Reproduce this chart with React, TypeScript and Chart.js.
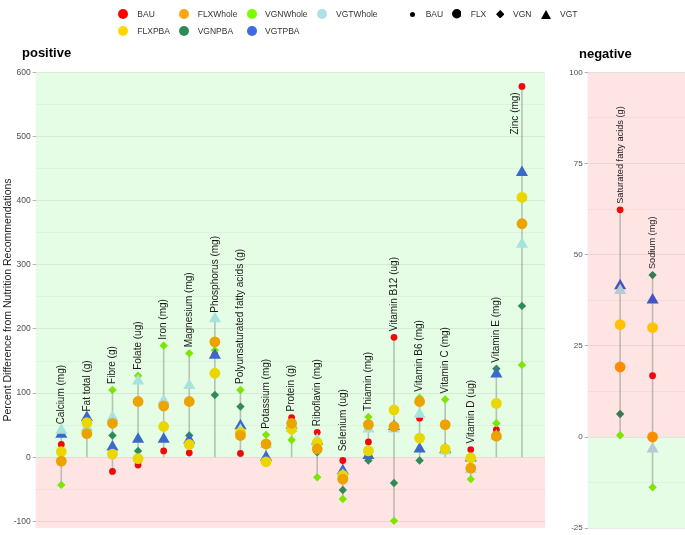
import React, { useEffect, useRef } from "react";
import { Chart, registerables } from "chart.js";
Chart.register(...registerables);

const FONT = "'Liberation Sans', Arial, Helvetica, sans-serif";
Chart.defaults.font.family = FONT;

// ---------- data: positive panel ----------
const posCategories = [
  "Calcium (mg)", "Fat total (g)", "Fibre (g)", "Folate (ug)", "Iron (mg)", "Magnesium (mg)",
  "Phosphorus (mg)", "Polyunsaturated fatty acids (g)", "Potassium (mg)", "Protein (g)",
  "Riboflavin (mg)", "Selenium (ug)", "Thiamin (mg)", "Vitamin B12 (ug)", "Vitamin B6 (mg)",
  "Vitamin C (mg)", "Vitamin D (ug)", "Vitamin E (mg)", "Zinc (mg)",
];
const posBAU = [20, 54, -22, -12, 10, 7, 160, 6, -7, 62, 39, -5, 24, 187, 61, 13, 12, 43, 578];
const posFLXWhole = [-6, 37, 53, 87, 80, 87, 180, 34, 21, 53, 13, -34, 51, 48, 87, 51, -17, 33, 364];
const posFLXPBA = [9, 54, 5, -2, 48, 20, 131, 39, -7, 44, 23, -28, 10, 74, 30, 13, -1, 84, 405];
const posVGNWhole = [-43, 37, 105, 127, 174, 162, 167, 105, 35, 27, -31, -65, 63, -99, 93, 90, -34, 53, 144];
const posVGNPBA = [9, 54, 34, 10, 48, 34, 97, 79, 21, 44, 8, -51, -5, -40, -5, 51, -17, 138, 236];
const posVGTWhole = [42, 47, 62, 119, 88, 112, 216, 42, 20, 45, 27, -28, 44, 44, 67, 10, -19, 33, 332];
const posVGTPBA = [36, 62, 16, 28, 28, 27, 159, 49, 0, 50, 25, -21, 3, 48, 13, 12, -1, 130, 444];
const posMajorTicks = [-100, 0, 100, 200, 300, 400, 500, 600];

// ---------- data: negative panel ----------
const negCategories = ["Saturated fatty acids (g)", "Sodium (mg)"];
const negBAU = [62.3, 16.8];
const negFLXWhole = [19.2, 0];
const negFLXPBA = [30.8, 30];
const negVGNWhole = [0.5, -13.8];
const negVGNPBA = [6.3, 44.4];
const negVGTWhole = [40.2, -3.3];
const negVGTPBA = [41.5, 37.6];
const negMajorTicks = [-25, 0, 25, 50, 75, 100];

type Palette = Record<string, string>;
const posColors: Palette = {
  BAU: "#ee0a0a", FLXWhole: "#eba300", FLXPBA: "#ead600", VGNWhole: "#7ce600",
  VGNPBA: "#2e8b57", VGTWhole: "#a8e2dc", VGTPBA: "#3b69c9",
};
const negColors: Palette = {
  BAU: "#ee0a0a", FLXWhole: "#ff8c00", FLXPBA: "#ffc200", VGNWhole: "#7ce600",
  VGNPBA: "#3b7a50", VGTWhole: "#b6cad2", VGTPBA: "#4253c2",
};

const styleOf: Record<string, { style: string; r: number; order: number }> = {
  BAU: { style: "circle", r: 3.4, order: 7 },
  VGNPBA: { style: "rectRot", r: 4.2, order: 6 },
  VGNWhole: { style: "rectRot", r: 4.2, order: 5 },
  VGTPBA: { style: "triangle", r: 7, order: 4 },
  VGTWhole: { style: "triangle", r: 7, order: 3 },
  FLXPBA: { style: "circle", r: 5.4, order: 2 },
  FLXWhole: { style: "circle", r: 5.4, order: 1 },
};

function buildDatasets(series: Record<string, number[]>, colors: Palette, n: number) {
  const all = Object.values(series);
  const seg: any[] = [];
  for (let i = 0; i < n; i++) {
    const vals = all.map((s) => s[i]);
    const lo = Math.min(0, ...vals);
    const hi = Math.max(0, ...vals);
    seg.push({ x: i, y: lo }, { x: i, y: hi }, { x: i, y: null });
  }
  const ds: any[] = [
    {
      label: "range",
      data: seg,
      borderColor: "rgba(135,135,135,0.5)",
      borderWidth: 1.6,
      pointRadius: 0,
      showLine: true,
      spanGaps: false,
      order: 20,
    },
  ];
  Object.keys(series).forEach((k) => {
    const st = styleOf[k];
    ds.push({
      label: k,
      data: series[k].map((v, i) => ({ x: i, y: v })),
      showLine: false,
      pointStyle: st.style,
      pointRadius: st.r,
      pointBackgroundColor: colors[k],
      pointBorderWidth: 0,
      borderWidth: 0,
      order: st.order,
    });
  });
  return ds;
}

function bgPlugin(above: string, below: string) {
  return {
    id: "bgBands",
    beforeDraw(chart: any) {
      const { ctx, chartArea: a, scales } = chart;
      const y0 = scales.y.getPixelForValue(0);
      ctx.save();
      ctx.fillStyle = above;
      ctx.fillRect(a.left, a.top, a.width, y0 - a.top);
      ctx.fillStyle = below;
      ctx.fillRect(a.left, y0, a.width, a.bottom - y0);
      ctx.restore();
    },
  };
}

function labelPlugin(cats: string[], series: number[][], fontSize: number) {
  return {
    id: "catLabels",
    afterDatasetsDraw(chart: any) {
      const { ctx, chartArea, scales } = chart;
      ctx.save();
      ctx.font = `${fontSize}px ${FONT}`;
      ctx.fillStyle = "#1a1a1a";
      ctx.textAlign = "left";
      ctx.textBaseline = "middle";
      cats.forEach((c, i) => {
        const max = Math.max(0, ...series.map((s) => s[i]));
        let x = scales.x.getPixelForValue(i);
        let y = scales.y.getPixelForValue(max) - 6;
        const w = ctx.measureText(c).width;
        if (y - w < chartArea.top + 4) {
          y = chartArea.top + 20 + w;
          x -= 7;
        }
        ctx.save();
        ctx.translate(x, y);
        ctx.rotate(-Math.PI / 2);
        ctx.fillText(c, 0, 0);
        ctx.restore();
      });
      ctx.restore();
    },
  };
}

function makeChart(
  canvas: HTMLCanvasElement,
  cats: string[],
  series: Record<string, number[]>,
  colors: Palette,
  opts: {
    xMax: number; yMin: number; yMax: number; step: number; major: number[];
    axisWidth: number; top: number; bottom: number; above: string; below: string;
    tickFont: number; labelFont: number;
  }
) {
  const majorSet = new Set(opts.major);
  const isMajor = (v: number) => majorSet.has(v);
  return new Chart(canvas, {
    type: "line",
    data: { datasets: buildDatasets(series, colors, cats.length) },
    options: {
      animation: false,
      responsive: false,
      events: [],
      layout: { padding: { top: opts.top, bottom: opts.bottom, left: 0, right: 0 }, autoPadding: false } as any,
      plugins: { legend: { display: false }, tooltip: { enabled: false }, title: { display: false } },
      scales: {
        x: { type: "linear", min: -1, max: opts.xMax, display: false },
        y: {
          type: "linear",
          min: opts.yMin,
          max: opts.yMax,
          afterFit(s: any) {
            s.width = opts.axisWidth;
          },
          border: { display: false },
          grid: {
            color: (c: any) => (isMajor(c.tick?.value) ? "rgba(0,0,0,0.075)" : "rgba(0,0,0,0.04)"),
            tickColor: (c: any) => (isMajor(c.tick?.value) ? "#b3b3b3" : "rgba(0,0,0,0)"),
            lineWidth: 1,
            drawTicks: true,
            tickLength: 3,
          },
          ticks: {
            stepSize: opts.step,
            includeBounds: false,
            autoSkip: false,
            padding: 2,
            color: "#4d4d4d",
            font: { size: opts.tickFont, family: FONT },
            callback: (v: any) => (isMajor(Number(v)) ? String(v) : ""),
          } as any,
        },
      },
    } as any,
    plugins: [
      bgPlugin(opts.above, opts.below),
      labelPlugin(cats, Object.values(series), opts.labelFont),
    ],
  });
}

const GREEN = "#e5fde5";
const PINK = "#ffe4e4";

function LegendSymbol({ kind, color, cx, cy, size }: { kind: string; color: string; cx: number; cy: number; size: number }) {
  const s = size;
  let shape: any;
  if (kind === "circle") shape = <circle cx={s / 2} cy={s / 2} r={s / 2} fill={color} />;
  else if (kind === "diamond")
    shape = <polygon points={`${s / 2},0 ${s},${s / 2} ${s / 2},${s} 0,${s / 2}`} fill={color} />;
  else shape = <polygon points={`${s / 2},0 ${s},${s * 0.9} 0,${s * 0.9}`} fill={color} />;
  return (
    <svg
      width={s}
      height={s}
      style={{ position: "absolute", left: cx - s / 2, top: cy - s / 2 + (kind === "triangle" ? 0.5 : 0) }}
    >
      {shape}
    </svg>
  );
}

function LegendText({ x, cy, text }: { x: number; cy: number; text: string }) {
  const fs = 8.5;
  return (
    <div
      style={{
        position: "absolute", left: x, top: cy - fs * 0.6, fontSize: fs, lineHeight: `${fs * 1.2}px`,
        fontFamily: FONT, color: "#333", whiteSpace: "nowrap",
      }}
    >
      {text}
    </div>
  );
}

const legendColorItems = [
  { name: "BAU", color: "#ff0000", cx: 123.3, tx: 137.3, cy: 14 },
  { name: "FLXWhole", color: "#ffa51a", cx: 184, tx: 197.7, cy: 14 },
  { name: "VGNWhole", color: "#7cfc00", cx: 251.7, tx: 265, cy: 14 },
  { name: "VGTWhole", color: "#b0e0e6", cx: 321.7, tx: 336, cy: 14 },
  { name: "FLXPBA", color: "#ffd700", cx: 123.3, tx: 137.3, cy: 30.7 },
  { name: "VGNPBA", color: "#2e8b57", cx: 184, tx: 197.7, cy: 30.7 },
  { name: "VGTPBA", color: "#4169e1", cx: 251.7, tx: 265, cy: 30.7 },
];
const legendShapeItems = [
  { name: "BAU", kind: "circle", size: 5, cx: 412.3, tx: 425.7 },
  { name: "FLX", kind: "circle", size: 9.5, cx: 456.7, tx: 470.7 },
  { name: "VGN", kind: "diamond", size: 8.5, cx: 500, tx: 513 },
  { name: "VGT", kind: "triangle", size: 10, cx: 545.7, tx: 560 },
];

export default function App() {
  const posRef = useRef<HTMLCanvasElement>(null);
  const negRef = useRef<HTMLCanvasElement>(null);

  useEffect(() => {
    const c1 = makeChart(
      posRef.current!,
      posCategories,
      {
        BAU: posBAU, FLXWhole: posFLXWhole, FLXPBA: posFLXPBA, VGNWhole: posVGNWhole,
        VGNPBA: posVGNPBA, VGTWhole: posVGTWhole, VGTPBA: posVGTPBA,
      },
      posColors,
      {
        xMax: 18.9, yMin: -110, yMax: 600, step: 50, major: posMajorTicks, axisWidth: 35.7,
        top: 72.3, bottom: 535 - 528.7, above: GREEN, below: PINK, tickFont: 8.5, labelFont: 10,
      }
    );
    const c2 = makeChart(
      negRef.current!,
      negCategories,
      {
        BAU: negBAU, FLXWhole: negFLXWhole, FLXPBA: negFLXPBA, VGNWhole: negVGNWhole,
        VGNPBA: negVGNPBA, VGTWhole: negVGTWhole, VGTPBA: negVGTPBA,
      },
      negColors,
      {
        xMax: 2, yMin: -25, yMax: 100, step: 12.5, major: negMajorTicks, axisWidth: 32.7,
        top: 72.3, bottom: 535 - 528.7, above: PINK, below: GREEN, tickFont: 8, labelFont: 9.2,
      }
    );
    return () => {
      c1.destroy();
      c2.destroy();
    };
  }, []);

  return (
    <div
      style={{
        position: "absolute", left: 0, top: 0, width: 685, height: 535, overflow: "hidden",
        background: "#ffffff", fontFamily: FONT,
      }}
    >
      <canvas ref={posRef} width={545} height={535} style={{ position: "absolute", left: 0, top: 0, width: 545, height: 535 }} />
      <canvas ref={negRef} width={130} height={535} style={{ position: "absolute", left: 555, top: 0, width: 130, height: 535 }} />

      {legendColorItems.map((it) => (
        <React.Fragment key={"c" + it.name}>
          <LegendSymbol kind="circle" color={it.color} cx={it.cx} cy={it.cy} size={10} />
          <LegendText x={it.tx} cy={it.cy} text={it.name} />
        </React.Fragment>
      ))}
      {legendShapeItems.map((it) => (
        <React.Fragment key={"s" + it.name}>
          <LegendSymbol kind={it.kind} color="#000" cx={it.cx} cy={14} size={it.size} />
          <LegendText x={it.tx} cy={14} text={it.name} />
        </React.Fragment>
      ))}

      <div style={{ position: "absolute", left: 22, top: 45.7, fontSize: 13, lineHeight: "13px", fontWeight: "bold", color: "#000", fontFamily: FONT }}>
        positive
      </div>
      <div style={{ position: "absolute", left: 579, top: 46.7, fontSize: 13, lineHeight: "13px", fontWeight: "bold", color: "#000", fontFamily: FONT }}>
        negative
      </div>
      <div
        style={{
          position: "absolute", left: 6.5 - 200, top: 300 - 6, width: 400, textAlign: "center",
          fontSize: 10.5, lineHeight: "12px", color: "#1a1a1a", fontFamily: FONT,
          transform: "rotate(-90deg)", transformOrigin: "50% 50%", whiteSpace: "nowrap",
        }}
      >
        Percent Difference from Nutrition Recommendations
      </div>
    </div>
  );
}
